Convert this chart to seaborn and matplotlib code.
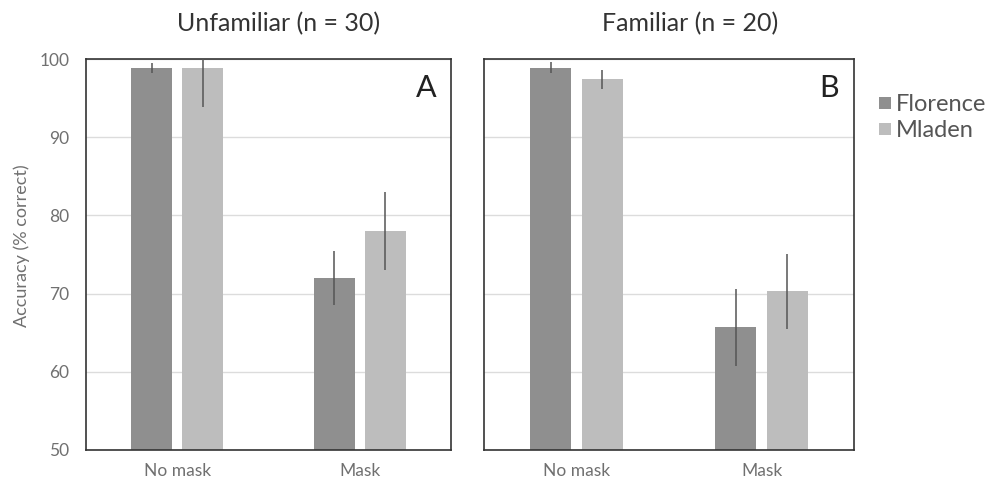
import matplotlib
matplotlib.use("Agg")
import matplotlib.pyplot as plt
import seaborn as sns
import pandas as pd

# Mean accuracy (% correct) and error half-widths per condition
conditions = ["No mask", "Mask"]
speakers = ["Florence", "Mladen"]

unfamiliar_florence = [98.9, 72.0]
unfamiliar_mladen = [98.8, 78.0]
unfamiliar_florence_err = [0.65, 3.4]
unfamiliar_mladen_err = [5.0, 5.0]

familiar_florence = [98.9, 65.7]
familiar_mladen = [97.4, 70.3]
familiar_florence_err = [0.7, 4.9]
familiar_mladen_err = [1.25, 4.8]

panel_titles = ["Unfamiliar (n = 30)", "Familiar (n = 20)"]
panel_letters = ["A", "B"]
y_ticks = [50, 60, 70, 80, 90, 100]

colors = {"Florence": "#8f8f8f", "Mladen": "#bdbdbd"}

sns.set_theme(style="white")
plt.rcParams["font.family"] = ["Lato", "DejaVu Sans"]

def build_frame(flo, mla, flo_err, mla_err):
    rows = []
    for i, c in enumerate(conditions):
        rows.append({"condition": c, "speaker": "Florence", "acc": flo[i], "err": flo_err[i]})
        rows.append({"condition": c, "speaker": "Mladen", "acc": mla[i], "err": mla_err[i]})
    return pd.DataFrame(rows)

frames = [
    build_frame(unfamiliar_florence, unfamiliar_mladen, unfamiliar_florence_err, unfamiliar_mladen_err),
    build_frame(familiar_florence, familiar_mladen, familiar_florence_err, familiar_mladen_err),
]

W, H = 997, 479
fig = plt.figure(figsize=(W / 100, H / 100), dpi=100)
ax_boxes = [(86, 451), (484, 854)]
top_px, bottom_px = 59, 450
axes = []
for (l, r) in ax_boxes:
    ax = fig.add_axes([l / W, 1 - bottom_px / H, (r - l) / W, (bottom_px - top_px) / H])
    axes.append(ax)

title_x = [279, 690]
for k, (ax, df) in enumerate(zip(axes, frames)):
    sns.barplot(data=df, x="condition", y="acc", hue="speaker", order=conditions,
                hue_order=speakers, palette=colors, width=0.56, gap=0.2,
                errorbar=None, ax=ax, legend=False, zorder=2, linewidth=0)
    # error bars centred on each drawn bar
    for patch in ax.patches:
        h = patch.get_height()
        if h <= 0:
            continue
        xc = patch.get_x() + patch.get_width() / 2
        ci = int(round(xc))
        cond = conditions[ci]
        spk = "Florence" if xc < ci else "Mladen"
        row = df[(df.condition == cond) & (df.speaker == spk)].iloc[0]
        ax.errorbar(xc, row.acc, yerr=row.err, fmt="none", ecolor="#555555",
                    elinewidth=1.1, capsize=0, zorder=3)
    ax.set_ylim(50, 100)
    ax.set_xlim(-0.5, 1.5)
    ax.set_yticks(y_ticks)
    ax.yaxis.grid(True, color="#dcdcdc", linewidth=1, zorder=0)
    ax.set_axisbelow(True)
    ax.set_xlabel("")
    ax.set_ylabel("")
    ax.tick_params(axis="both", length=0, labelsize=12.5, labelcolor="#707070")
    ax.tick_params(axis="x", pad=9)
    ax.tick_params(axis="y", pad=12)
    for s in ax.spines.values():
        s.set_visible(True)
        s.set_color("#333333")
        s.set_linewidth(1.2)
    if k == 1:
        ax.set_yticklabels([])
    ax.text(0.96, 0.925, panel_letters[k], transform=ax.transAxes, ha="right", va="center",
            fontsize=22, color="#222222")
    fig.text(title_x[k] / W, 1 - 24 / H, panel_titles[k], ha="center", va="center",
             fontsize=18, color="#333333")

axes[0].set_ylabel("Accuracy (% correct)", fontsize=13, color="#707070")
axes[0].yaxis.set_label_coords(-(86 - 30) / 365, (450 - 246) / 391)

handles = [plt.Line2D([], [], marker="s", linestyle="none", markersize=9,
                      markerfacecolor=colors[s], markeredgewidth=0) for s in speakers]
fig.legend(handles, speakers, loc="upper left", bbox_to_anchor=(866 / W, 1 - 85 / H),
           frameon=False, fontsize=17, handletextpad=0.05, labelspacing=0.2,
           handlelength=0.8, borderaxespad=0, labelcolor="#555555")

fig.savefig("out.png", dpi=100)
